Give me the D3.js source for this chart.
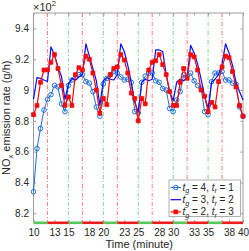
<!DOCTYPE html>
<html>
<head>
<meta charset="utf-8">
<script src="https://cdn.jsdelivr.net/npm/d3@7"></script>
<style>
  html, body { margin: 0; padding: 0; background: #fff; }
  svg { display: block; font-family: "Liberation Sans", Arial, sans-serif; }
</style>
</head>
<body>
<div id="chart"></div>
<script>
// time in minutes (one sample every half minute)
const times = [10, 10.5, 11, 11.5, 12, 12.5, 13, 13.5, 14, 14.5,
               15, 15.5, 16, 16.5, 17, 17.5, 18, 18.5, 19, 19.5,
               20, 20.5, 21, 21.5, 22, 22.5, 23, 23.5, 24, 24.5,
               25, 25.5, 26, 26.5, 27, 27.5, 28, 28.5, 29, 29.5,
               30, 30.5, 31, 31.5, 32, 32.5, 33, 33.5, 34, 34.5,
               35, 35.5, 36, 36.5, 37, 37.5, 38, 38.5, 39, 39.5, 40];

// NOx emission rate (g/h)
const noxG4R1 = [834, 862, 875, 887, 894, 897, 903, 902, 891, 886,
                 903, 906.5, 908, 910, 910, 905.5, 904.5, 899, 889, 883,
                 904, 907.5, 910, 912, 911, 908.5, 906.5, 907, 905, 886,
                 885, 905, 909, 911, 911, 906, 905, 901, 900, 888,
                 886, 893.5, 899, 909.8, 909, 911, 906, 903, 901, 886,
                 884, 905.4, 911, 911, 912, 906.5, 906.5, 904.4, 903.7, 889,
                 883];
const noxG3R2 = [894, 908, 907.6, 906.5, 905.5, 928, 923, 915, 909, 894,
                 904, 907.5, 906.5, 908.5, 910, 930, 922, 914, 906, 890,
                 906, 908, 907, 906.5, 910, 930, 925, 916, 905, 892,
                 886, 905, 907, 906, 907, 926, 926, 925, 910, 899,
                 893, 905, 907, 906, 908, 929, 924, 917, 907, 896,
                 888, 905, 907, 910, 917, 930, 924, 916, 905, 899,
                 893.5];
const noxG2R3 = [884, 890, 905, 913, 913, 918, 923, 914, 903, 890,
                 895.5, 890, 910, 914.5, 913, 922, 920, 911, 900, 885,
                 894.5, 890.5, 910, 914, 915, 923, 919.5, 911, 898, 894.5,
                 880, 894.5, 891, 913, 918, 919, 923, 916.5, 910, 899,
                 890, 890, 905, 914, 907.6, 923, 921.5, 913, 900, 896,
                 886, 892, 889, 905.5, 915, 922, 921, 912, 902, 890,
                 883];

const xTicks = [10, 13, 15, 18, 20, 23, 25, 28, 30, 33, 35, 38, 40];
const yTicks = [820, 840, 860, 880, 900, 920, 940];
const yTickLabels = ['8.2', '8.4', '8.6', '8.8', '9', '9.2', '9.4'];

// signal phases (minutes) for the tg = 2, tr = 3 plan
const greenStarts = [10, 15, 20, 25, 30, 35];
const redStarts = [12, 17, 22, 27, 32, 37];
const tEnd = 40;

const series = [
    { name: [4, 1], values: noxG4R1, color: '#1c6fdc', width: 1, marker: 'circle' },
    { name: [3, 2], values: noxG3R2, color: '#0a0aff', width: 1.2, marker: null },
    { name: [2, 3], values: noxG2R3, color: '#f50a0a', width: 1.2, marker: 'square' }
];

const width = 249, height = 251;
const margin = { top: 13, right: 6, bottom: 28.5, left: 33.5 };
const innerW = width - margin.left - margin.right;
const innerH = height - margin.top - margin.bottom;

const svg = d3.select('#chart').append('svg')
    .attr('width', width)
    .attr('height', height);

const g = svg.append('g')
    .attr('transform', `translate(${margin.left},${margin.top})`);

const x = d3.scaleLinear().domain([10, 40]).range([0, innerW]);
const y = d3.scaleLinear().domain([814, 950]).range([innerH, 0]);

// phase boundaries
g.selectAll('.red-start')
    .data(redStarts)
    .enter().append('line')
    .attr('x1', d => x(d)).attr('x2', d => x(d))
    .attr('y1', 0).attr('y2', innerH)
    .attr('stroke', '#ff7070')
    .attr('stroke-width', 0.9)
    .attr('stroke-dasharray', '4,2,1,2');

g.selectAll('.green-start')
    .data(greenStarts.filter(d => d > 10))
    .enter().append('line')
    .attr('x1', d => x(d)).attr('x2', d => x(d))
    .attr('y1', 0).attr('y2', innerH)
    .attr('stroke', '#6fd27a')
    .attr('stroke-width', 0.9)
    .attr('stroke-dasharray', '4,2,1,2');

// axes
const axisColor = '#9c9c9c';
const textColor = '#262626';

const xAxis = g.append('g')
    .attr('transform', `translate(0,${innerH})`)
    .call(d3.axisBottom(x).tickValues(xTicks).tickSize(-2.5).tickPadding(6).tickFormat(d => d));
const xTop = g.append('g')
    .call(d3.axisTop(x).tickValues(xTicks).tickSize(-2.5).tickFormat(''));
const yAxis = g.append('g')
    .call(d3.axisLeft(y).tickValues(yTicks).tickSize(-2.5).tickPadding(4.5)
        .tickFormat((d, i) => yTickLabels[i]));
const yRight = g.append('g')
    .attr('transform', `translate(${innerW},0)`)
    .call(d3.axisRight(y).tickValues(yTicks).tickSize(-2.5).tickFormat(''));

[xAxis, xTop, yAxis, yRight].forEach(a => {
    a.select('.domain').remove();
    a.selectAll('line').attr('stroke', axisColor);
    a.selectAll('text')
        .attr('fill', textColor)
        .style('font-size', '10px')
        .style('font-family', '"Liberation Sans", Arial, sans-serif');
});

g.append('rect')
    .attr('x', 0).attr('y', 0)
    .attr('width', innerW).attr('height', innerH)
    .attr('fill', 'none')
    .attr('stroke', axisColor)
    .attr('stroke-width', 1);

// phase band along the time axis
const greenBand = greenStarts.map((s, i) => [s, redStarts[i]]);
const redBand = redStarts.map((s, i) => [s, i + 1 < greenStarts.length ? greenStarts[i + 1] : tEnd]);

g.selectAll('.band-green')
    .data(greenBand)
    .enter().append('line')
    .attr('x1', d => x(d[0])).attr('x2', d => x(d[1]))
    .attr('y1', innerH + 0.3).attr('y2', innerH + 0.3)
    .attr('stroke', '#55c85a')
    .attr('stroke-width', 2.6);

g.selectAll('.band-red')
    .data(redBand)
    .enter().append('line')
    .attr('x1', d => x(d[0])).attr('x2', d => x(d[1]))
    .attr('y1', innerH + 0.3).attr('y2', innerH + 0.3)
    .attr('stroke', '#ee1c1c')
    .attr('stroke-width', 2.6);

// series
const line = d3.line()
    .x((d, i) => x(times[i]))
    .y(d => y(d));

function drawMarkers(sel, s, px, py) {
    if (s.marker === 'circle') {
        sel.append('circle')
            .attr('cx', px).attr('cy', py).attr('r', 2.3)
            .attr('fill', 'none')
            .attr('stroke', s.color)
            .attr('stroke-width', 1);
    } else if (s.marker === 'square') {
        sel.append('path')
            .attr('transform', `translate(${px},${py})`)
            .attr('d', d3.symbol(d3.symbolSquare).size(15)())
            .attr('fill', s.color)
            .attr('stroke', s.color)
            .attr('stroke-width', 0.8);
    }
}

series.forEach(s => {
    g.append('path')
        .datum(s.values)
        .attr('fill', 'none')
        .attr('stroke', s.color)
        .attr('stroke-width', s.width)
        .attr('stroke-linejoin', 'round')
        .attr('d', line);
    const mg = g.append('g');
    s.values.forEach((v, i) => drawMarkers(mg, s, x(times[i]), y(v)));
});

// exponent note
const expo = svg.append('text')
    .attr('x', margin.left - 0.5)
    .attr('y', 10.5)
    .attr('fill', textColor)
    .style('font-size', '11px');
expo.append('tspan').text('\u00d710');
expo.append('tspan').attr('dy', -4.5).style('font-size', '7.5px').text('2');

// axis labels
svg.append('text')
    .attr('x', margin.left + innerW / 2 + 1)
    .attr('y', 248)
    .attr('text-anchor', 'middle')
    .attr('fill', textColor)
    .style('font-size', '11px')
    .text('Time (minute)');

const yLabel = svg.append('text')
    .attr('transform', `translate(10,${margin.top + innerH / 2}) rotate(-90)`)
    .attr('text-anchor', 'middle')
    .attr('fill', textColor)
    .style('font-size', '11px');
yLabel.append('tspan').text('NO');
yLabel.append('tspan').attr('dy', 2.5).style('font-size', '7.5px').text('x');
yLabel.append('tspan').attr('dy', -2.5).text(' emission rate (g/h)');

// legend
const legend = g.append('g')
    .attr('transform', `translate(${169 - margin.left},${180 - margin.top})`);

legend.append('rect')
    .attr('width', 71.5).attr('height', 36.5)
    .attr('fill', '#fff')
    .attr('stroke', axisColor)
    .attr('stroke-width', 0.8);

series.forEach((s, i) => {
    const row = legend.append('g').attr('transform', `translate(0,${7.5 + i * 12.2})`);
    row.append('line')
        .attr('x1', 1.5).attr('x2', 12)
        .attr('y1', 0).attr('y2', 0)
        .attr('stroke', s.color)
        .attr('stroke-width', s.width);
    drawMarkers(row, s, 6.8, 0);
    const t = row.append('text')
        .attr('x', 13.5).attr('y', 3.4)
        .attr('fill', textColor)
        .style('font-size', '10px');
    t.append('tspan').style('font-style', 'italic').text('t');
    t.append('tspan').attr('dy', 2.5).style('font-size', '7px').style('font-style', 'italic').text('g');
    t.append('tspan').attr('dy', -2.5).text(` = ${s.name[0]}, `);
    t.append('tspan').style('font-style', 'italic').text('t');
    t.append('tspan').attr('dy', 2.5).style('font-size', '7px').style('font-style', 'italic').text('r');
    t.append('tspan').attr('dy', -2.5).text(` = ${s.name[1]}`);
});
</script>
</body>
</html>
